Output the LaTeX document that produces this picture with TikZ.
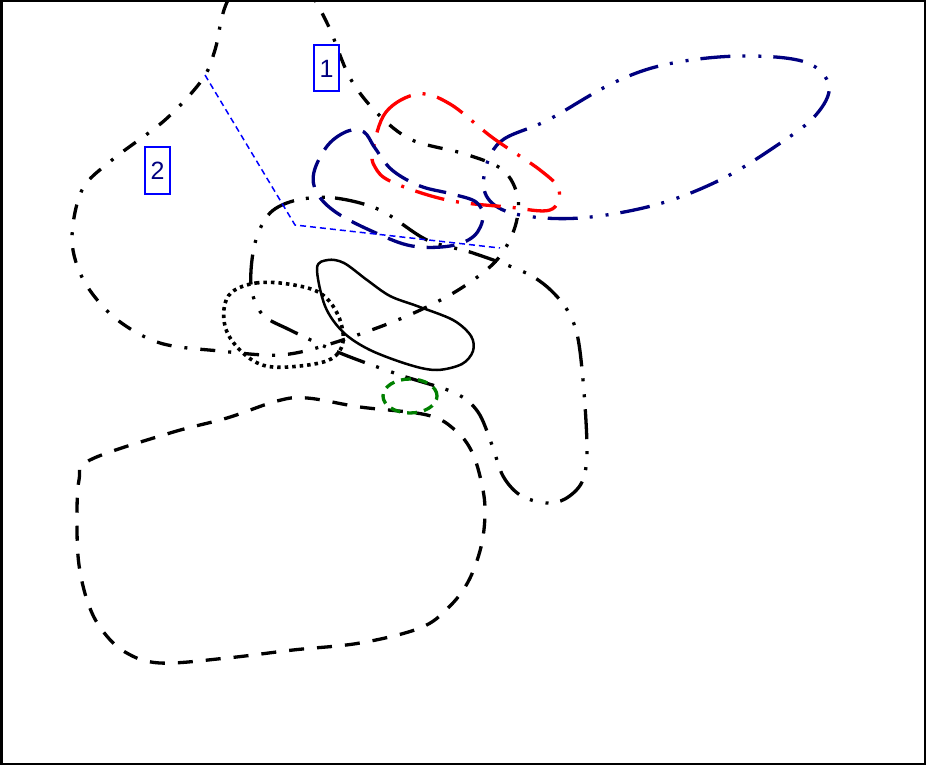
\documentclass[tikz,border=0pt]{standalone}
\usepackage{fontspec}
\setmainfont{Liberation Sans}
\begin{document}
\begin{tikzpicture}[x=1pt,y=-1pt,
  thickline/.style={line width=3.3pt},
  curveA/.style={thickline,black,dash pattern=on 15pt off 13pt on 3pt off 13pt},
  curveB/.style={thickline,black,dash pattern=on 30pt off 12pt on 3pt off 13pt on 3pt off 12pt},
  navyddd/.style={thickline,navyc,dash pattern=on 30pt off 12pt on 3pt off 13pt on 3pt off 12pt},
  reddd/.style={thickline,red,dash pattern=on 30pt off 12pt on 3pt off 12pt},
  navydash/.style={thickline,navyc,dash pattern=on 28pt off 12pt},
  blackdash/.style={thickline,black,dash pattern=on 15pt off 13pt},
  greendash/.style={thickline,greenc,dash pattern=on 10pt off 7pt},
  blackdot/.style={line width=3.6pt,black,dash pattern=on 3.5pt off 4pt},
  solidc/.style={line width=2.5pt,black},
  guide/.style={line width=1.5pt,blue,dash pattern=on 6pt off 4pt},
  labelbox/.style={draw=blue,line width=2pt,text=navyc,minimum width=25pt,minimum height=46pt,inner sep=0pt,font=\fontsize{25}{25}\selectfont}
]
\definecolor{navyc}{RGB}{0,0,128}
\definecolor{greenc}{RGB}{0,128,0}
\useasboundingbox (0,0) rectangle (926,765);
\fill[white] (0,0) rectangle (926,765);

% big dashed black
\draw[blackdash] plot[smooth cycle,tension=0.6] coordinates {
 (90,460) (170,433) (227,418) (277,401) (307,398) (360,407) (427,415)
 (455,430) (472,452) (482,485) (485,513) (481,547) (468,582) (448,608)
 (420,628) (360,643) (293,650) (227,658) (160,663) (125,652) (102,630)
 (88,603) (79,565) (77,523) (79,480)};

% curve A (clipped)
\begin{scope}
\clip (0,0) rectangle (926,765);
\draw[curveA] plot[smooth cycle,tension=0.55] coordinates {
 (268,-55) (228,0) (215,50) (202,80) (165,120) (112,160) (82,190)
 (72,240) (84,281) (115,318) (160,343) (220,351) (280,355) (330,344)
 (400,319) (455,292) (495,262) (514,230) (518,198) (503,170) (465,154)
 (412,140) (378,114) (350,78) (328,25) (305,-15)};
\end{scope}

% curve B
\draw[curveB] plot[smooth cycle,tension=0.55] coordinates {
 (297,200) (335,198) (380,210) (427,240) (473,253) (530,275) (560,300)
 (576,330) (583,380) (587,450) (582,482) (565,499) (545,503) (520,495)
 (503,476) (492,445) (478,412) (455,393) (400,375) (340,353) (290,330)
 (262,314) (251,285) (255,243) (270,213)};

% navy big
\draw[navyddd] plot[smooth cycle,tension=0.6] coordinates {
 (484,176) (500,142) (548,120) (613,83) (668,64) (740,56) (805,62)
 (829,86) (815,116) (776,146) (720,180) (655,205) (580,218) (520,215) (490,201)};

% red
\draw[reddd] plot[smooth cycle,tension=0.6] coordinates {
 (373,150) (386,112) (418,94) (450,104) (493,138) (540,170) (559,190)
 (550,210) (508,207) (447,200) (392,182) (375,167)};

% navy dashed
\draw[navydash] plot[smooth cycle,tension=0.6] coordinates {
 (314,172) (328,145) (348,131) (364,132) (375,148) (392,170) (420,186)
 (452,194) (476,202) (483,217) (474,236) (450,246) (412,246) (376,233)
 (337,213) (317,193)};

% dotted ellipse
\draw[blackdot] plot[smooth cycle,tension=0.6] coordinates {
 (232,292) (256,283) (288,284) (320,293) (338,315) (343,342) (331,359)
 (300,366) (266,366) (243,353) (227,332) (224,309)};

% solid black
\draw[solidc] plot[smooth cycle,tension=0.55] coordinates {
 (317,268) (328,260) (344,263) (367,280) (390,296) (417,306) (453,320)
 (471,336) (473,351) (462,364) (437,370) (410,365) (370,350) (343,332)
 (325,306)};

% green dashed
\draw[greendash] (410,396) ellipse [x radius=27pt,y radius=17pt];

% guide polyline
\coordinate (g1) at (205,75);
\coordinate (g2) at (295,225);
\coordinate (g3) at (500,248);
\draw[guide] (g1) -- (g2) -- (g3);

% labels
\node[labelbox] (lab1) at (326.5,68.5) {1};
\node[labelbox] (lab2) at (157.5,170.5) {2};

% frame
\draw[line width=2.5pt] (1.25,1.25) rectangle (924.75,763.75);
\end{tikzpicture}
\end{document}
